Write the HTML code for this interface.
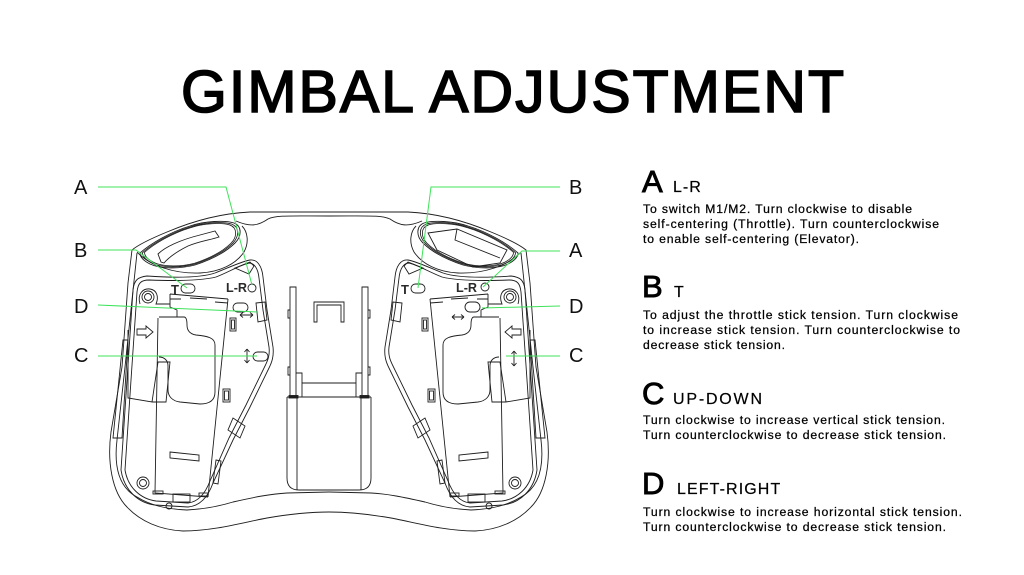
<!DOCTYPE html>
<html><head><meta charset="utf-8"><style>
html,body{margin:0;padding:0;background:#fff;}
svg{display:block;}
text{font-family:"Liberation Sans",sans-serif;}
</style></head><body>
<svg width="1024" height="575" viewBox="0 0 1024 575" xmlns="http://www.w3.org/2000/svg">
<rect width="1024" height="575" fill="#fff"/>
<text x="181" y="112" font-size="59" textLength="663" lengthAdjust="spacing" fill="#000" stroke="#000" stroke-width="1.6">GIMBAL ADJUSTMENT</text>

<defs>
<g id="half" fill="none" stroke="#1e1e1e" stroke-width="0.9">
  <path d="M329,212 L250,212 C228,213 200,218 167,232 C150,239 138,245 132,250 L128,283 L122,367 L111,432 C107,462 112,492 127,507 C140,521 160,530 183,531 C215,531 245,522 267,518 C290,514 310,512 329,512"/>
  <path d="M137,253 L132,300 L125,367 L117,440 C114,465 118,487 137,497 C150,505 165,509 187,510 C205,509 220,506 233,502 C255,497 270,494 287,493 L329,492"/>
  <path d="M236,221 C250,227 258,226 268,219 C276,215 290,216 329,216"/>
  <path d="M137,252 C150,266 175,274 200,273 C220,272 236,264 244,252 C249,243 248,232 242,226"/>
  <path d="M140,253 C150,244 170,232 190,226 C205,221 225,220 234,223 C242,226 242,236 235,243 C225,253 210,260 195,265 C180,269 160,269 150,264 C144,261 140,257 140,253 Z"/>
  <path d="M140,253 C150,244 170,232 190,226 C205,221 225,220 234,223 C242,226 242,236 235,243 C225,253 210,260 195,265 C180,269 160,269 150,264 C144,261 140,257 140,253 Z" transform="translate(190,246) scale(0.95) translate(-190,-246)"/>
  <path d="M140,253 C150,244 170,232 190,226 C205,221 225,220 234,223 C242,226 242,236 235,243 C225,253 210,260 195,265 C180,269 160,269 150,264 C144,261 140,257 140,253 Z" transform="translate(190,246) scale(0.91) translate(-190,-246)"/>
  <path d="M133,290 C134,280 138,277 147,276 C175,278 200,278 215,273 C228,268 240,262 250,260 C257,259 262,266 263,277 L267,310 L273,347 C274,356 272,362 269,368 L250,407 L233,440 L213,483 C208,497 200,506 188,507 L155,505 C138,503 124,490 121,470 L127,380 Z"/>
  <path d="M137,292 C138,283 141,280 149,280 C175,281 200,281 216,277 C229,272 240,265 249,263 C254,263 258,268 259,278 L263,310 L269,347 C270,355 268,360 265,366 L246,405 L229,438 L210,481 C205,494 198,502 188,503 L156,501 C141,499 128,488 125,470 L131,380 Z"/>
  <polygon points="123,340 128,340 122,438 113,438"/>
  <polygon points="235,268 250,262 254,266 249,274"/>
  <circle cx="148" cy="297" r="6"/><circle cx="148" cy="297" r="3.5"/>
  <path d="M140,304 C137,294 143,288 150,289 C157,290 159,297 156,304 L170,304"/>
  <circle cx="143" cy="483" r="6"/><circle cx="143" cy="483" r="3.5"/>
  <path d="M170,294 L228,299 M170,294 L170,307 L177,310 L177,317 M170,299 L181,299 M190,298 L207,299 M215,302 L228,303 M228,299 L208,497 M158,318 L155,493 L208,497"/>
  <path d="M159,317 L184,317 C186,317 187,320 187,325 C187,331 190,334 196,335 C208,336 215,338 215,345 L215,392 C215,400 210,404 200,404 L180,402 C172,401 168,396 168,390 L168,366 C168,360 164,357 159,357"/>
  <path d="M128,330 L128,398 L152,402 L158,362 L170,362 L166,402 L152,402"/>
  <polygon points="137,329 146,329 146,326 153,332 146,338 146,335 137,335"/>
  <rect x="230" y="318" width="6" height="13"/><rect x="231.5" y="320" width="3" height="9"/>
  <rect x="223" y="389" width="7" height="13"/><rect x="224.5" y="391" width="4" height="9"/>
  <polygon points="233,418 245,426 240,438 228,430"/>
  <polygon points="256,303 265,302 267,320 258,322"/>
  <polygon points="216,460 221,461 218,484 213,483"/>
  <polygon points="170,452 199,455 199,461 170,458"/>
  <rect x="153" y="491" width="10" height="3"/>
  <rect x="173" y="494" width="17" height="8"/>
  <circle cx="169" cy="506" r="3"/>
  <rect x="199" y="493" width="9" height="3"/>
  <path d="M290,287 L296,287 L296,397 L290,397 Z M290,310 L288,310 L288,318 L290,318 M290,367 L288,367 L288,375 L290,375 M296,373 L302,373 L302,397 M302,383 L329,383"/>
  <path d="M329,302 L314,302 L314,322 L317,322 L317,305 L329,305"/>
  <path d="M287,397 L329,397 M287,397 L287,478 C287,486 291,490 299,490 L329,490 M297,397 L297,490"/>
  <rect x="289" y="395.5" width="9" height="2.5" fill="#1e1e1e"/>
</g>
</defs>

<use href="#half"/>
<use href="#half" transform="translate(658,0) scale(-1,1)"/>

<g fill="none" stroke="#1e1e1e" stroke-width="0.9">
  <path d="M161,262 L158,254 C165,247 180,240 200,235 L215,231 L219,237 C210,240 200,241 188,246 C178,251 170,256 164,263 Z"/>
  <path d="M428,233 L457,229 L507,250 L500,263 L473,267 L437,250 Z"/>
  <path d="M457,229 L455,240 L500,258"/>
  <rect x="181" y="284" width="14" height="9" rx="4.5"/>
  <circle cx="252" cy="288" r="4"/>
  <rect x="233" y="303" width="15" height="9" rx="4.5"/>
  <rect x="253" y="352" width="15" height="9" rx="4.5"/>
  <rect x="411" y="284" width="14" height="9" rx="4.5"/>
  <circle cx="485" cy="287" r="4"/>
  <rect x="465" y="302" width="15" height="10" rx="5"/>
</g>
<g fill="none" stroke="#1e1e1e" stroke-width="0.9">
  <path d="M240,315 L253,315 M240,315 L243,312.5 M240,315 L243,317.5 M253,315 L250,312.5 M253,315 L250,317.5"/>
  <path d="M247,349 L247,363 M247,349 L244.5,352 M247,349 L249.5,352 M247,363 L244.5,360 M247,363 L249.5,360"/>
  <path d="M452,317 L464,317 M452,317 L455,314.5 M452,317 L455,319.5 M464,317 L461,314.5 M464,317 L461,319.5"/>
  <path d="M514,351 L514,366 M514,351 L511.5,354 M514,351 L516.5,354 M514,366 L511.5,363 M514,366 L516.5,363"/>
</g>
<g font-weight="bold" font-size="13" fill="#2a2a2a">
  <text x="171" y="294">T</text>
  <text x="226" y="292" textLength="21" lengthAdjust="spacingAndGlyphs">L-R</text>
  <text x="401" y="294">T</text>
  <text x="456" y="292" textLength="21" lengthAdjust="spacingAndGlyphs">L-R</text>
</g>

<g fill="none" stroke="#3fe35a" stroke-width="1">
  <polyline points="98,187 226,187 252,285"/>
  <polyline points="98,250 136,250 187,288"/>
  <line x1="98" y1="305" x2="258" y2="312"/>
  <line x1="98" y1="356" x2="257" y2="356"/>
  <polyline points="560,187 431,187 418,288"/>
  <polyline points="560,251 522,251 483,287"/>
  <line x1="560" y1="306" x2="482" y2="308"/>
  <line x1="560" y1="356" x2="506" y2="356"/>
</g>
<g font-size="20" fill="#111">
  <text x="74" y="194">A</text>
  <text x="74" y="257">B</text>
  <text x="74" y="313">D</text>
  <text x="74" y="362">C</text>
  <text x="569" y="194">B</text>
  <text x="569" y="257">A</text>
  <text x="569" y="313">D</text>
  <text x="569" y="362">C</text>
</g>

<g fill="#000">
  <g stroke="#000" stroke-width="0.9" font-size="31">
    <text x="642" y="192">A</text>
    <text x="642" y="297">B</text>
    <text x="642" y="404">C</text>
    <text x="642" y="494">D</text>
  </g>
  <g font-size="16" stroke="#000" stroke-width="0.2">
    <text x="673" y="192" letter-spacing="1">L-R</text>
    <text x="674" y="297">T</text>
    <text x="673" y="404" letter-spacing="1.8">UP-DOWN</text>
    <text x="677" y="494" letter-spacing="1.1">LEFT-RIGHT</text>
  </g>
  <g font-size="12.2" stroke="#000" stroke-width="0.25">
    <text x="643" y="213" textLength="269" lengthAdjust="spacing">To switch M1/M2. Turn clockwise to disable</text>
    <text x="643" y="228" textLength="296" lengthAdjust="spacing">self-centering (Throttle). Turn counterclockwise</text>
    <text x="643" y="243" textLength="216" lengthAdjust="spacing">to enable self-centering (Elevator).</text>
    <text x="643" y="319" textLength="315" lengthAdjust="spacing">To adjust the throttle stick tension. Turn clockwise</text>
    <text x="643" y="334" textLength="317" lengthAdjust="spacing">to increase stick tension. Turn counterclockwise to</text>
    <text x="643" y="349" textLength="142" lengthAdjust="spacing">decrease stick tension.</text>
    <text x="643" y="424" textLength="302" lengthAdjust="spacing">Turn clockwise to increase vertical stick tension.</text>
    <text x="643" y="439" textLength="303" lengthAdjust="spacing">Turn counterclockwise to decrease stick tension.</text>
    <text x="643" y="516" textLength="319" lengthAdjust="spacing">Turn clockwise to increase horizontal stick tension.</text>
    <text x="643" y="531" textLength="303" lengthAdjust="spacing">Turn counterclockwise to decrease stick tension.</text>
  </g>
</g>
</svg>
</body></html>
